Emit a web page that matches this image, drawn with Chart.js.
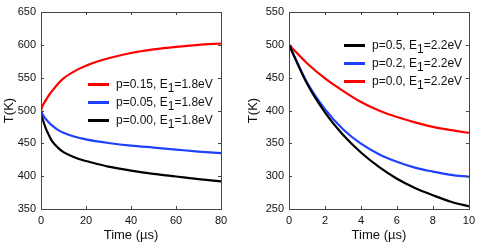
<!DOCTYPE html>
<html>
<head>
<meta charset="utf-8">
<script src="https://cdn.jsdelivr.net/npm/chart.js@4"></script>
<style>
  html, body { margin:0; padding:0; background:#fff; }
  #wrap { position:relative; width:480px; height:245px; overflow:hidden; font-family:"Liberation Sans", Arial, sans-serif; }
  canvas { position:absolute; top:0; }
  #c1 { left:0; } #c2 { left:240px; }
  .leg { position:absolute; font-size:12px; color:#111; line-height:18px; white-space:nowrap; }
  .row { position:relative; height:18px; }
  .sw { position:absolute; left:0; top:8px; width:21px; height:2.5px; }
  .tx { position:absolute; left:28px; top:0; }
  .tx sub { font-size:12px; vertical-align:-4px; line-height:0; }
</style>
</head>
<body>
<div id="wrap">
  <canvas id="c1" width="240" height="245"></canvas>
  <canvas id="c2" width="240" height="245"></canvas>
  <div class="leg" style="left:88px; top:75px;">
    <div class="row"><span class="sw" style="background:#ff0000"></span><span class="tx">p=0.15, E<sub>1</sub>=1.8eV</span></div>
    <div class="row"><span class="sw" style="background:#2040ff"></span><span class="tx">p=0.05, E<sub>1</sub>=1.8eV</span></div>
    <div class="row"><span class="sw" style="background:#000000"></span><span class="tx">p=0.00, E<sub>1</sub>=1.8eV</span></div>
  </div>
  <div class="leg" style="left:344px; top:36px;">
    <div class="row"><span class="sw" style="background:#000000"></span><span class="tx">p=0.5, E<sub>1</sub>=2.2eV</span></div>
    <div class="row"><span class="sw" style="background:#2040ff"></span><span class="tx">p=0.2, E<sub>1</sub>=2.2eV</span></div>
    <div class="row"><span class="sw" style="background:#ff0000"></span><span class="tx">p=0.0, E<sub>1</sub>=2.2eV</span></div>
  </div>
</div>
<script>
// ---- data ----
const leftTime  = [0, 0.5, 1, 2, 3, 4, 5, 7.5, 10, 15, 20, 25, 30, 40, 50, 60, 70, 80];
const leftP015  = [500, 505.5, 509, 515, 520.5, 525.5, 530, 540.5, 549, 560, 568, 574.5, 579.5, 587.5, 593, 597, 600, 602];
const leftP005  = [500, 495.5, 492.5, 487.5, 483.5, 480, 477, 470.5, 466, 460, 456, 453, 450.5, 446.5, 443.5, 440.5, 437.5, 435];
const leftP000  = [500, 490, 484, 474, 466, 459, 453, 443.5, 436.5, 428.5, 423, 418.5, 414.5, 408.5, 403.5, 399.5, 395.5, 392];
const leftXTicks = [0, 20, 40, 60, 80];
const leftYTicks = [350, 400, 450, 500, 550, 600, 650];

const rightTime = [0, 1, 2, 3, 4, 5, 6, 7, 8, 9, 10];
const rightP05  = [500, 441, 397, 363, 336, 314, 296, 282, 271, 261, 254];
const rightP02  = [500, 443, 402, 371.5, 349.5, 333.5, 322, 313, 307, 302, 299];
const rightP00  = [500, 472, 449, 430, 413, 400, 390, 382, 375, 370, 366];
const rightXTicks = [0, 2, 4, 6, 8, 10];
const rightYTicks = [250, 300, 350, 400, 450, 500, 550];

const RED = '#ff0000', BLUE = '#2040ff', BLACK = '#000000';
const FONT = '"Liberation Sans", Arial, sans-serif';

const pts = (xs, ys) => xs.map((x, i) => ({x, y: ys[i]}));

const boxTicks = {
  id: 'boxTicks',
  afterDraw(chart) {
    const {ctx, chartArea: a, scales: {x, y}} = chart;
    ctx.save();
    ctx.strokeStyle = '#444';
    ctx.lineWidth = 1;
    ctx.strokeRect(Math.round(a.left) + 0.5, Math.round(a.top) + 0.5, Math.round(a.right - a.left), Math.round(a.bottom - a.top));
    const L = 3;
    ctx.beginPath();
    x.ticks.forEach(t => {
      const px = Math.round(x.getPixelForValue(t.value)) + 0.5;
      ctx.moveTo(px, a.bottom); ctx.lineTo(px, a.bottom - L);
      ctx.moveTo(px, a.top); ctx.lineTo(px, a.top + L);
    });
    y.ticks.forEach(t => {
      const py = Math.round(y.getPixelForValue(t.value)) + 0.5;
      ctx.moveTo(a.left, py); ctx.lineTo(a.left + L, py);
      ctx.moveTo(a.right, py); ctx.lineTo(a.right - L, py);
    });
    ctx.stroke();
    ctx.restore();
  }
};

function makeChart(id, series, xTicks, yTicks, yWidth, padRight, titlePadLeft) {
  return new Chart(document.getElementById(id), {
    type: 'line',
    data: {
      datasets: series.map(s => ({
        data: s.data, borderColor: s.color, borderWidth: 2.2,
        pointRadius: 0, cubicInterpolationMode: 'monotone', fill: false
      }))
    },
    options: {
      responsive: false, animation: false, devicePixelRatio: 1,
      layout: { padding: { left: 0, top: 12, right: padRight, bottom: 0 } },
      plugins: { legend: { display: false }, tooltip: { enabled: false } },
      scales: {
        x: {
          type: 'linear', min: xTicks[0], max: xTicks[xTicks.length - 1],
          afterBuildTicks: s => { s.ticks = xTicks.map(v => ({value: v})); },
          afterFit: s => { s.height = 36; },
          grid: { display: false, drawTicks: false, tickLength: 0 }, border: { display: false },
          ticks: { font: { family: FONT, size: 11 }, color: '#111', padding: 5, maxRotation: 0 },
          title: { display: true, text: 'Time (µs)', font: { family: FONT, size: 13 }, color: '#111', padding: { top: 0, bottom: 2 } }
        },
        y: {
          type: 'linear', min: yTicks[0], max: yTicks[yTicks.length - 1],
          afterBuildTicks: s => { s.ticks = yTicks.map(v => ({value: v})); },
          afterFit: s => { s.width = yWidth; },
          grid: { display: false, drawTicks: false, tickLength: 0 }, border: { display: false },
          ticks: { font: { family: FONT, size: 11 }, color: '#111', padding: 5 },
          title: { display: true, text: 'T(K)', font: { family: FONT, size: 13 }, color: '#111', padding: { top: titlePadLeft, bottom: 0 } }
        }
      }
    },
    plugins: [boxTicks]
  });
}

makeChart('c1', [
  { data: pts(leftTime, leftP015), color: RED },
  { data: pts(leftTime, leftP005), color: BLUE },
  { data: pts(leftTime, leftP000), color: BLACK }
], leftXTicks, leftYTicks, 41, 19, 2);

makeChart('c2', [
  { data: pts(rightTime, rightP05), color: BLACK },
  { data: pts(rightTime, rightP02), color: BLUE },
  { data: pts(rightTime, rightP00), color: RED }
], rightXTicks, rightYTicks, 49, 11, 6);
</script>
</body>
</html>
